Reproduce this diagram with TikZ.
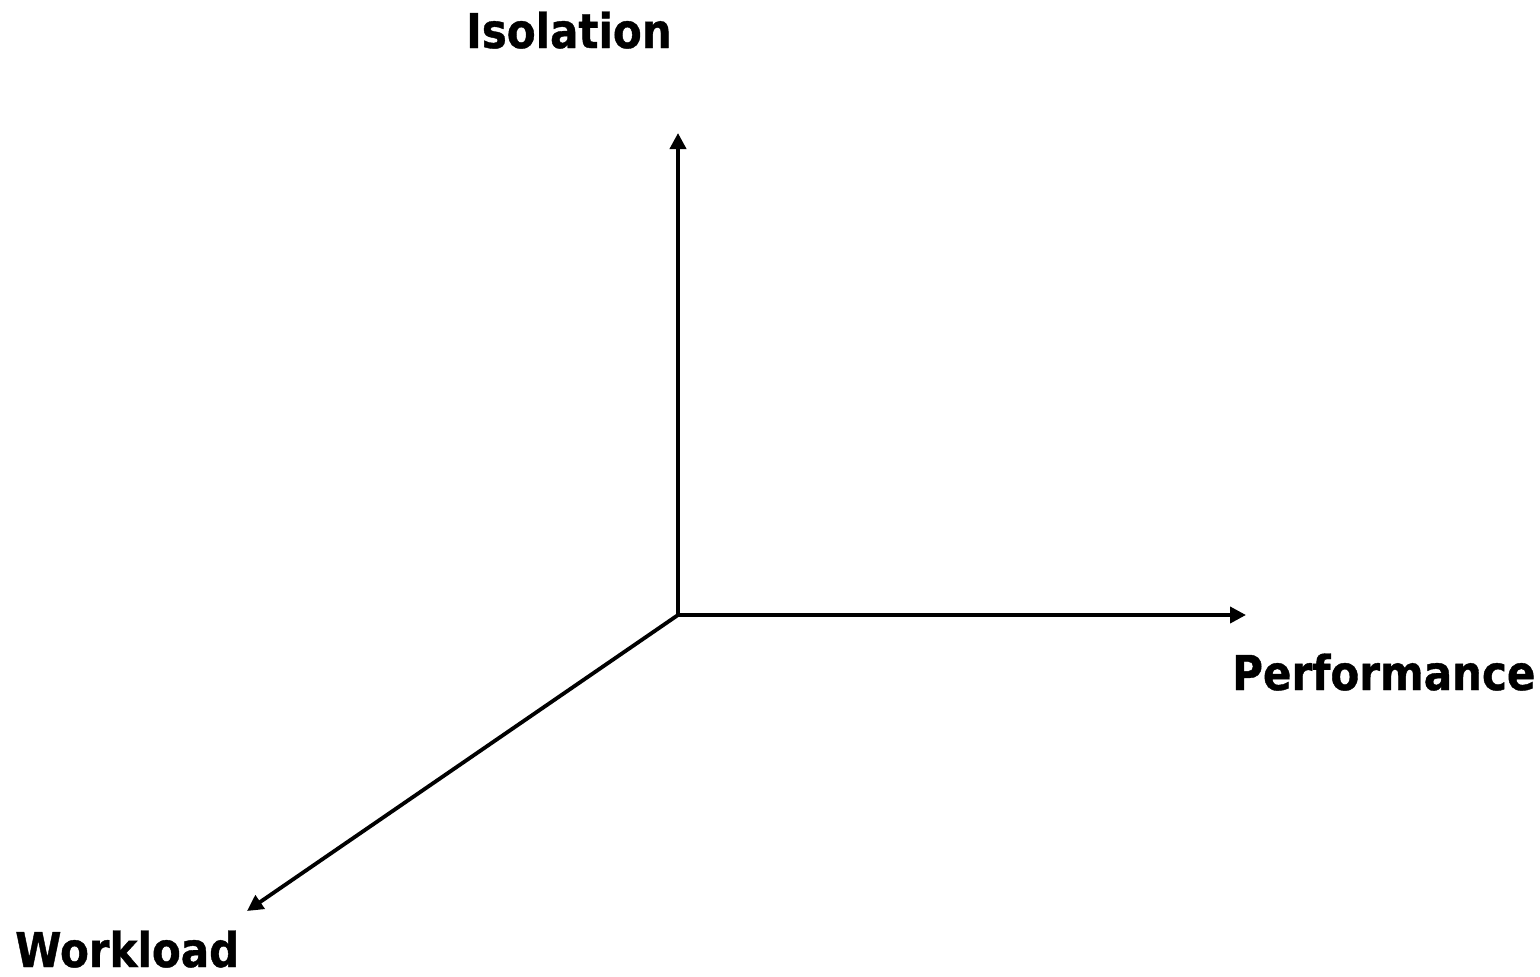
\documentclass[tikz,border=0pt]{standalone}
\usepackage{fontspec}
\setmainfont{DejaVu Sans}[FakeStretch=0.875,BoldFeatures={FakeBold=0.8}]
\usetikzlibrary{arrows.meta}
\begin{document}
\begin{tikzpicture}[x=1pt,y=-1pt,
  axis/.style={line width=3.8pt,-{Triangle[length=16pt,width=16pt]}},
  axlabel/.style={font=\fontsize{48}{56}\selectfont\bfseries,inner sep=0pt,anchor=base west}]
\useasboundingbox (0,0) rectangle (1540,977);
\coordinate (o) at (678,615);
\coordinate (up) at (678,133);
\coordinate (right) at (1246,615);
\coordinate (down) at (247,911);
\draw[axis] (o) -- (up);
\draw[axis] (o) -- (right);
\draw[axis] (o) -- (down);
\node[axlabel] (iso) at (466,48) {Isolation};
\node[axlabel] (perf) at (1232,690) {Performance};
\node[axlabel] (work) at (15,967) {Workload};
\end{tikzpicture}
\end{document}
